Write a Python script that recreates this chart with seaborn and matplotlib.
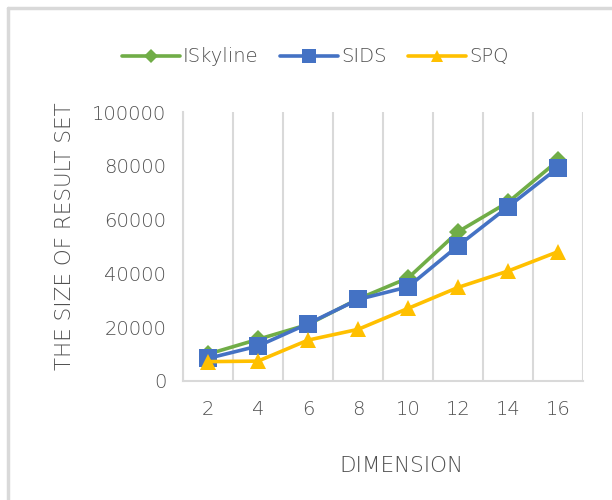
import numpy as np
import pandas as pd
import matplotlib
matplotlib.use('Agg')
import matplotlib.pyplot as plt
import seaborn as sns
from matplotlib.lines import Line2D

# data
dimensions = ['2', '4', '6', '8', '10', '12', '14', '16']
iskyline = [10000, 15500, 21000, 30500, 38300, 55500, 66500, 82000]
sids = [8400, 13000, 21300, 30300, 35000, 50300, 64800, 79300]
spq = [7200, 7400, 15200, 19200, 27000, 34800, 40900, 48100]

series = [('ISkyline', iskyline, '#70AD47', 'D', 9),
          ('SIDS', sids, '#4472C4', 's', 13),
          ('SPQ', spq, '#FFC000', '^', 12)]

text_color = '#505050'
grid_color = '#D9D9D9'

sns.set_style('white')
plt.rcParams['font.family'] = ['DejaVu Sans']
plt.rcParams['font.weight'] = 'light'
plt.rcParams['axes.labelweight'] = 'light'

fig = plt.figure(figsize=(6.12, 5.0), dpi=100)
ax = fig.add_axes([0.299, 0.238, 0.654, 0.538])

pos = np.arange(len(dimensions))
handles = []
for name, vals, color, marker, ms in series:
    sns.lineplot(x=pos, y=vals, ax=ax, color=color, linewidth=2.6, marker=marker,
                 markersize=ms, markeredgewidth=0, label=name, legend=False)
    handles.append(Line2D([], [], color=color, linewidth=2.6, marker=marker,
                          markersize=ms * 0.75, markeredgewidth=0, label=name))

ax.set_xlim(-0.5, len(dimensions) - 0.5)
ax.set_ylim(0, 100000)
ax.set_yticks(np.arange(0, 100001, 20000))
ax.set_xticks(pos)
ax.set_xticklabels(dimensions)
ax.set_xticks(np.arange(-0.5, len(dimensions)), minor=True)
ax.grid(True, axis='x', which='minor', color=grid_color, linewidth=1.5)
ax.grid(False, axis='y')
ax.grid(False, axis='x', which='major')
ax.tick_params(axis='both', which='both', length=0, colors=text_color, labelsize=14)
ax.tick_params(axis='x', pad=14)
ax.tick_params(axis='y', pad=12)

for side in ['top', 'right']:
    ax.spines[side].set_visible(False)
for side in ['left', 'bottom']:
    ax.spines[side].set_color(grid_color)
    ax.spines[side].set_linewidth(1.5)

ax.set_xlabel('DIMENSION', fontsize=15.5, color=text_color, fontweight='light')
ax.set_ylabel('THE SIZE OF RESULT SET', fontsize=15.5, color=text_color, fontweight='light')
ax.xaxis.set_label_coords(0.545, -0.28)
ax.yaxis.set_label_coords(-0.27, 0.537)

fig.legend(handles=handles, loc='center', bbox_to_anchor=(0.515, 0.886), ncol=3,
           frameon=False, fontsize=14, labelcolor=text_color, handlelength=3.0,
           handletextpad=0.15, columnspacing=1.1)

# chart area border (only top and left edges visible in the reference)
fig.add_artist(Line2D([0.013, 1.0], [0.985, 0.985], color=grid_color, linewidth=2.5,
                      transform=fig.transFigure))
fig.add_artist(Line2D([0.013, 0.013], [0.0, 0.985], color=grid_color, linewidth=2.5,
                      transform=fig.transFigure))

fig.savefig('out.png', dpi=100, facecolor='white')
